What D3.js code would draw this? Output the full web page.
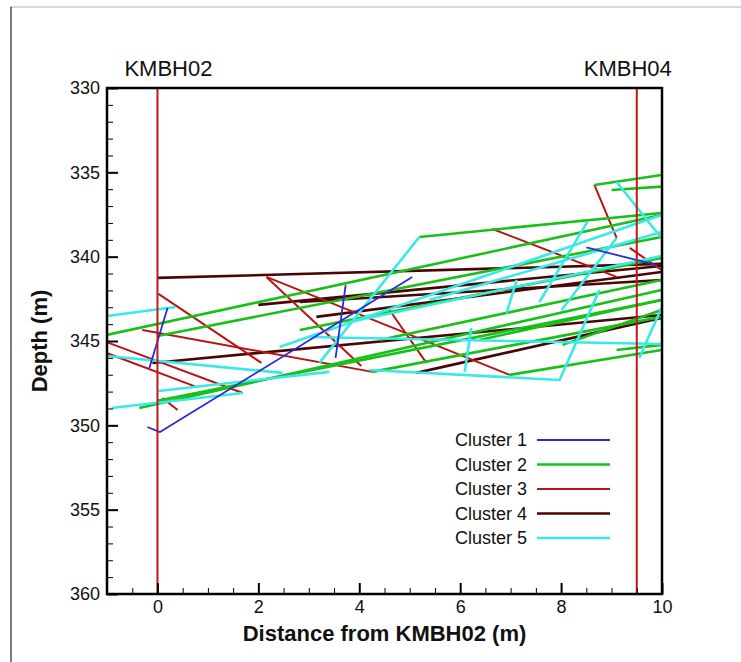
<!DOCTYPE html>
<html>
<head>
<meta charset="utf-8">
<script src="https://cdn.jsdelivr.net/npm/d3@7"></script>
<style>
  body { margin: 0; background: #fff; }
  text { font-family: Arial, "Liberation Sans", sans-serif; }
</style>
</head>
<body>
<div id="chart"></div>
<script>
// traces are polylines of [distance (m), depth (m)]
const cluster1 = [
  [[-0.20, 350.10], [0.05, 350.40], [5.05, 341.20]],
  [[0.20, 343.04], [-0.16, 346.60]],
  [[3.73, 341.68], [3.53, 346.00]],
  [[8.50, 339.45], [9.90, 340.50]]
];
const cluster2 = [
  [[-1.01, 344.64], [9.99, 337.53]],
  [[0.00, 344.70], [9.99, 338.83]],
  [[-0.36, 348.97], [9.99, 341.97]],
  [[0.00, 348.55], [9.99, 342.57]],
  [[4.26, 346.83], [9.99, 343.57]],
  [[6.98, 347.01], [9.99, 345.53]],
  [[5.19, 338.83], [9.99, 337.41]],
  [[8.66, 335.75], [9.99, 335.16]],
  [[9.00, 336.05], [9.99, 335.85]],
  [[2.82, 344.35], [9.99, 340.08]],
  [[4.40, 344.94], [9.99, 341.38]],
  [[6.38, 344.94], [9.99, 342.57]],
  [[8.03, 345.23], [9.99, 343.16]],
  [[9.10, 345.53], [9.99, 345.23]]
];
const cluster3 = [
  [[0.02, 342.21], [2.06, 346.30]],
  [[-1.01, 345.06], [1.69, 348.08]],
  [[-1.01, 345.71], [0.77, 347.72]],
  [[-0.30, 344.35], [4.26, 346.83]],
  [[0.10, 348.38], [0.40, 349.09]],
  [[2.16, 341.20], [4.04, 346.48]],
  [[2.16, 341.20], [6.98, 347.01]],
  [[4.60, 343.16], [5.33, 346.30]],
  [[6.64, 338.36], [9.10, 341.20]],
  [[8.66, 335.75], [9.10, 338.89]],
  [[9.36, 339.48], [9.99, 340.79]]
];
const cluster4 = [
  [[0.00, 341.26], [9.99, 340.43]],
  [[2.00, 342.86], [9.99, 340.55]],
  [[-0.10, 346.30], [9.99, 343.46]],
  [[3.15, 343.57], [9.99, 340.91]],
  [[5.13, 346.89], [9.99, 343.63]],
  [[2.82, 342.69], [9.99, 341.38]]
];
const cluster5 = [
  [[-1.01, 343.52], [0.36, 342.98]],
  [[-1.01, 345.89], [2.48, 346.89]],
  [[-0.91, 348.97], [1.69, 348.08]],
  [[0.02, 347.96], [3.41, 346.83]],
  [[5.19, 338.83], [3.21, 346.30]],
  [[9.10, 335.57], [9.99, 338.89]],
  [[8.52, 337.94], [7.57, 342.69]],
  [[9.10, 338.89], [8.01, 343.16]],
  [[9.99, 343.04], [9.55, 346.00]],
  [[4.20, 346.72], [7.97, 347.31], [8.76, 341.97]],
  [[2.42, 345.35], [9.99, 337.53]],
  [[3.81, 343.87], [9.99, 339.96]],
  [[3.01, 344.76], [9.99, 345.18]],
  [[7.12, 341.38], [6.92, 343.34]],
  [[6.22, 344.23], [6.09, 346.83]],
  [[5.39, 342.57], [9.99, 338.54]]
];

const boreholes = [{ name: "KMBH02", x: 0, dx: 11 }, { name: "KMBH04", x: 9.5, dx: -9 }];
const xTicks = [0, 2, 4, 6, 8, 10];
const yTicks = [330, 335, 340, 345, 350, 355, 360];

const clusters = [
  { label: "Cluster 1", data: cluster1, color: "#2b2bd6", width: 1.8 },
  { label: "Cluster 2", data: cluster2, color: "#19c019", width: 2.6 },
  { label: "Cluster 3", data: cluster3, color: "#b81414", width: 2 },
  { label: "Cluster 4", data: cluster4, color: "#4a0505", width: 2.6 },
  { label: "Cluster 5", data: cluster5, color: "#3ae8e8", width: 2.6 }
];
const drawOrder = [3, 2, 1, 4, 0];

const width = 741, height = 662;
const plotL = 107, plotR = 662, plotT = 88, plotB = 594;

const svg = d3.select("#chart").append("svg")
  .attr("width", width)
  .attr("height", height);

// outer frame of the figure
svg.append("line")
  .attr("x1", 10).attr("x2", width).attr("y1", 7).attr("y2", 7)
  .attr("stroke", "#b0b0b0").attr("stroke-width", 1);
svg.append("line")
  .attr("x1", 11).attr("x2", 11).attr("y1", 7).attr("y2", height)
  .attr("stroke", "#222").attr("stroke-width", 1.2);

const x = d3.scaleLinear().domain([-1, 10]).range([plotL, plotR]);
const y = d3.scaleLinear().domain([330, 360]).range([plotT, plotB]);

svg.append("clipPath").attr("id", "clip")
  .append("rect")
  .attr("x", plotL).attr("y", plotT)
  .attr("width", plotR - plotL).attr("height", plotB - plotT);

const line = d3.line().x(d => x(d[0])).y(d => y(d[1]));

const traces = svg.append("g").attr("clip-path", "url(#clip)");
drawOrder.forEach(i => {
  const c = clusters[i];
  traces.append("g")
    .selectAll("path")
    .data(c.data)
    .join("path")
    .attr("d", line)
    .attr("fill", "none")
    .attr("stroke", c.color)
    .attr("stroke-width", c.width)
    .attr("stroke-linejoin", "round");
});

// boreholes
svg.append("g")
  .selectAll("line")
  .data(boreholes)
  .join("line")
  .attr("x1", d => x(d.x)).attr("x2", d => x(d.x))
  .attr("y1", y(330)).attr("y2", y(360))
  .attr("stroke", "#c01818")
  .attr("stroke-width", 2);

svg.append("g")
  .selectAll("text")
  .data(boreholes)
  .join("text")
  .attr("x", d => x(d.x) + d.dx)
  .attr("y", 76)
  .attr("text-anchor", "middle")
  .attr("font-size", 22)
  .attr("fill", "#111")
  .text(d => d.name);

// axes, ticks pointing inward
const xMajor = d3.axisBottom(x).tickValues(xTicks).tickSize(-11).tickPadding(6).tickFormat(d3.format("d"));
const xMinor = d3.axisBottom(x).tickValues(d3.range(-0.5, 10, 0.5).filter(v => v % 2 !== 0)).tickSize(-6).tickFormat("");
const yMajor = d3.axisLeft(y).tickValues(yTicks).tickSize(-11).tickPadding(7).tickFormat(d3.format("d"));
const yMinor = d3.axisLeft(y).tickValues(d3.range(331, 360, 1).filter(v => v % 5 !== 0)).tickSize(-6).tickFormat("");

function styleAxis(g, w) {
  g.select(".domain").remove();
  g.selectAll(".tick line").attr("stroke", "#000").attr("stroke-width", w);
  g.selectAll(".tick text").attr("font-size", 18).attr("fill", "#111")
    .attr("font-family", "Arial, 'Liberation Sans', sans-serif");
}

svg.append("g").attr("transform", `translate(0,${plotB})`).call(xMinor).call(g => styleAxis(g, 1));
svg.append("g").attr("transform", `translate(0,${plotB})`).call(xMajor).call(g => styleAxis(g, 2));
svg.append("g").attr("transform", `translate(${plotL},0)`).call(yMinor).call(g => styleAxis(g, 1));
svg.append("g").attr("transform", `translate(${plotL},0)`).call(yMajor).call(g => styleAxis(g, 2));

svg.append("rect")
  .attr("x", plotL).attr("y", plotT)
  .attr("width", plotR - plotL).attr("height", plotB - plotT)
  .attr("fill", "none")
  .attr("stroke", "#000")
  .attr("stroke-width", 2.5);

// axis titles
svg.append("text")
  .attr("x", (plotL + plotR) / 2)
  .attr("y", 641)
  .attr("text-anchor", "middle")
  .attr("font-size", 22)
  .attr("font-weight", "bold")
  .attr("fill", "#111")
  .text("Distance from KMBH02 (m)");

svg.append("text")
  .attr("transform", `translate(47,${(plotT + plotB) / 2}) rotate(-90)`)
  .attr("text-anchor", "middle")
  .attr("font-size", 22)
  .attr("font-weight", "bold")
  .attr("fill", "#111")
  .text("Depth (m)");

// legend
const legend = svg.append("g")
  .selectAll("g")
  .data(clusters)
  .join("g")
  .attr("transform", (d, i) => `translate(455,${440 + i * 24.5})`);

legend.append("text")
  .attr("y", 6)
  .attr("font-size", 18)
  .attr("fill", "#111")
  .text(d => d.label);

legend.append("line")
  .attr("x1", 82).attr("x2", 155)
  .attr("stroke", d => d.color)
  .attr("stroke-width", d => d.width);
</script>
</body>
</html>
